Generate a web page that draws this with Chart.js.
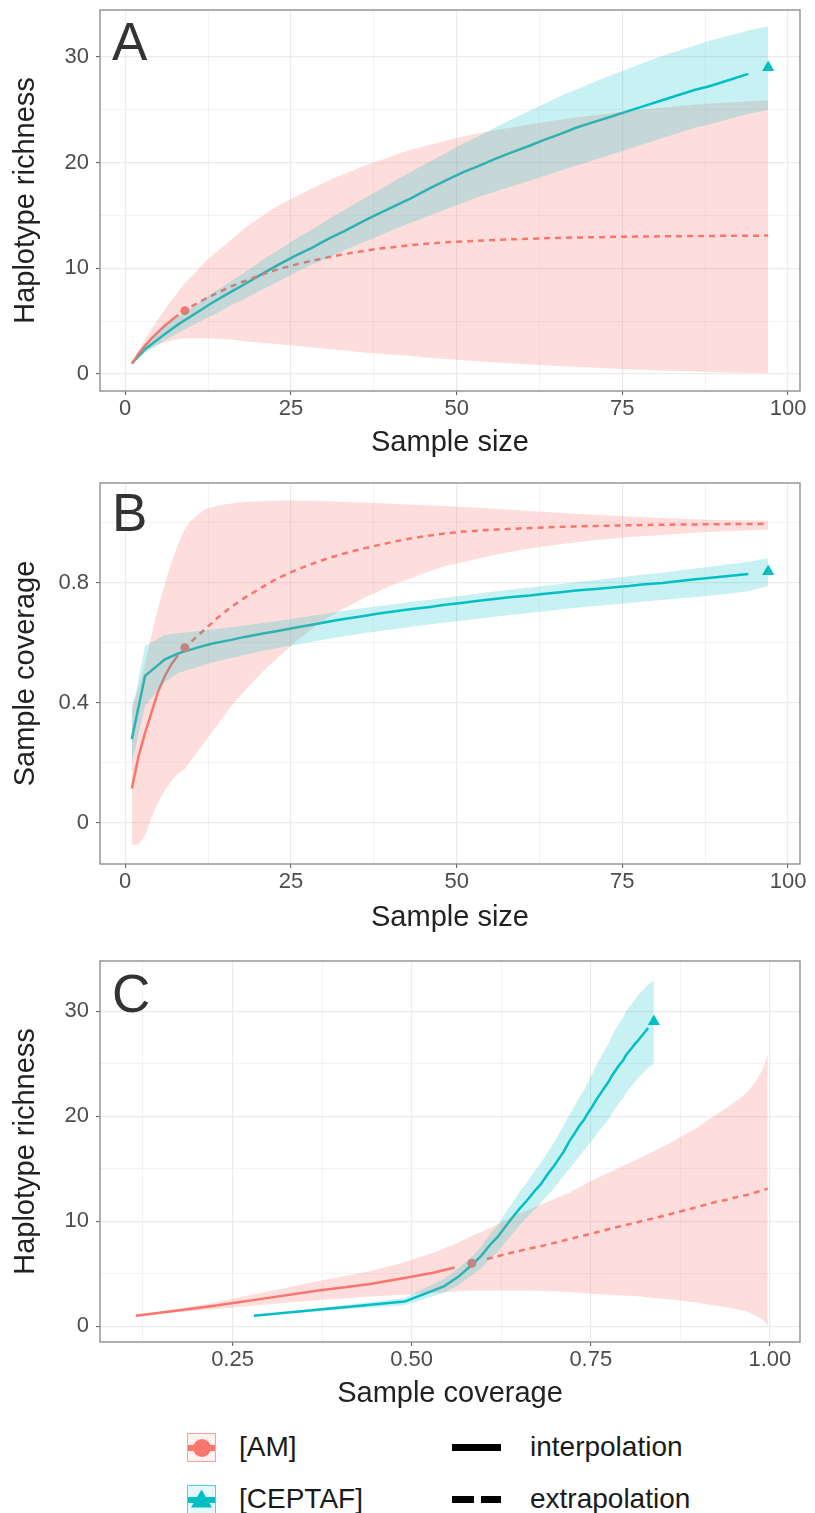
<!DOCTYPE html>
<html>
<head>
<meta charset="utf-8">
<title>Haplotype rarefaction / extrapolation</title>
<script src="https://cdn.jsdelivr.net/npm/chart.js@4.4.0/dist/chart.umd.min.js"></script>
<style>
  html, body { margin: 0; padding: 0; background: #fff; }
  body { width: 815px; height: 1513px; position: relative; overflow: hidden; font-family: 'Liberation Sans', Arial, sans-serif; }
  canvas { position: absolute; left: 0; }
  .tag { position: absolute; left: 112px; font-size: 53px; line-height: 1; color: #333; }
  .key { position: absolute; left: 187px; width: 27px; height: 27px; border: 1.5px solid; }
  .key .bar { position: absolute; left: 0; right: 0; top: 50%; height: 6px; margin-top: -3px; background: currentColor; }
  .key .dot { position: absolute; left: 50%; top: 50%; width: 18px; height: 18px; margin: -9px 0 0 -9px; border-radius: 50%; background: currentColor; }
  .key .tri { position: absolute; left: 50%; top: 50%; width: 21px; height: 18px; margin: -10px 0 0 -10.5px; background: currentColor; clip-path: polygon(50% 0, 100% 100%, 0 100%); }
  .am { color: #F8766D; border-color: rgba(248,118,109,0.65); background: rgba(248,118,109,0.10); }
  .ce { color: #00BFC4; border-color: rgba(0,191,196,0.65); background: rgba(0,191,196,0.10); }
  .lt { position: absolute; font-size: 28px; line-height: 1; color: #1a1a1a; white-space: nowrap; }
  .ln { position: absolute; height: 7px; background: #000; }
</style>
</head>
<body>
<canvas id="chartA" width="815" height="470" style="top:0px"></canvas>
<canvas id="chartB" width="815" height="480" style="top:470px"></canvas>
<canvas id="chartC" width="815" height="470" style="top:950px"></canvas>

<div class="tag" style="top:15px">A</div>
<div class="tag" style="top:486px">B</div>
<div class="tag" style="top:967px">C</div>

<!-- legend -->
<div class="key am" style="top:1433px"><div class="bar"></div><div class="dot"></div></div>
<div class="lt" style="left:239px;top:1433px">[AM]</div>
<div class="key ce" style="top:1485px"><div class="bar"></div><div class="tri"></div></div>
<div class="lt" style="left:239px;top:1485px">[CEPTAF]</div>
<div class="ln" style="left:452px;top:1444px;width:49px"></div>
<div class="lt" style="left:530px;top:1433px">interpolation</div>
<div class="ln" style="left:452px;top:1496px;width:22px"></div>
<div class="ln" style="left:481px;top:1496px;width:20px"></div>
<div class="lt" style="left:530px;top:1485px">extrapolation</div>

<script>
// ---- AM : sample sizes (observed n = 9 at index 8) ----
const amN = [1, 2, 3, 4, 5, 6, 7, 8, 9, 10, 12, 14, 16, 18, 21, 23, 26, 28, 31, 33, 36, 38, 41, 43, 46, 48, 51, 56, 61, 66, 71, 76, 81, 86, 91, 97];
const amObs = 8;
const amRich   = [1.0, 1.9, 2.7, 3.4, 4.0, 4.6, 5.1, 5.6, 6.0, 6.4, 7.1, 7.7, 8.3, 8.8, 9.5, 9.9, 10.4, 10.7, 11.1, 11.35, 11.65, 11.85, 12.05, 12.2, 12.35, 12.45, 12.55, 12.7, 12.8, 12.9, 12.95, 13.0, 13.03, 13.06, 13.08, 13.1];
const amRichLo = [1.0, 1.6, 2.1, 2.5, 2.8, 3.0, 3.2, 3.3, 3.4, 3.4, 3.4, 3.35, 3.25, 3.1, 2.95, 2.85, 2.65, 2.55, 2.35, 2.25, 2.05, 1.95, 1.8, 1.7, 1.55, 1.45, 1.3, 1.1, 0.9, 0.75, 0.6, 0.45, 0.35, 0.25, 0.15, 0.1];
const amRichHi = [1.0, 2.2, 3.3, 4.3, 5.2, 6.1, 7.0, 7.8, 8.6, 9.2, 10.6, 11.7, 12.7, 13.8, 15.1, 15.9, 16.9, 17.5, 18.4, 18.9, 19.7, 20.1, 20.8, 21.2, 21.7, 22.0, 22.5, 23.1, 23.6, 24.1, 24.5, 24.9, 25.2, 25.5, 25.7, 25.9];
const amCov    = [0.115, 0.22, 0.30, 0.37, 0.44, 0.49, 0.53, 0.56, 0.584, 0.605, 0.645, 0.685, 0.72, 0.75, 0.79, 0.815, 0.845, 0.862, 0.885, 0.898, 0.915, 0.925, 0.94, 0.948, 0.958, 0.964, 0.971, 0.978, 0.983, 0.987, 0.99, 0.992, 0.994, 0.995, 0.996, 0.997];
const amCovLo  = [-0.073, -0.073, -0.04, 0.02, 0.07, 0.11, 0.14, 0.165, 0.18, 0.21, 0.27, 0.33, 0.39, 0.44, 0.51, 0.55, 0.61, 0.645, 0.69, 0.715, 0.75, 0.77, 0.80, 0.815, 0.84, 0.855, 0.87, 0.895, 0.915, 0.93, 0.943, 0.953, 0.96, 0.967, 0.973, 0.978];
const amCovHi  = [0.39, 0.45, 0.53, 0.63, 0.72, 0.80, 0.87, 0.93, 0.98, 1.01, 1.045, 1.058, 1.065, 1.07, 1.073, 1.075, 1.075, 1.074, 1.072, 1.07, 1.068, 1.066, 1.063, 1.061, 1.058, 1.056, 1.053, 1.047, 1.04, 1.033, 1.027, 1.021, 1.016, 1.012, 1.009, 1.007];

// ---- CEPTAF : sample sizes (observed n = 97 at the last index) ----
const ceN = [1, 3, 6, 8, 11, 13, 16, 18, 21, 23, 26, 28, 31, 33, 36, 38, 41, 43, 46, 48, 51, 53, 56, 58, 61, 63, 66, 68, 71, 73, 76, 78, 81, 83, 86, 88, 91, 94, 97];
const ceObs = 38;
const ceRich   = [1.0, 2.35, 3.8, 4.7, 5.9, 6.7, 7.8, 8.5, 9.6, 10.3, 11.3, 11.9, 12.9, 13.5, 14.5, 15.1, 16.0, 16.6, 17.6, 18.2, 19.1, 19.6, 20.4, 20.9, 21.6, 22.1, 22.8, 23.3, 23.9, 24.3, 24.9, 25.3, 25.9, 26.3, 26.9, 27.2, 27.8, 28.4, 29.0];
const ceRichLo = [1.0, 2.0, 3.2, 3.9, 4.9, 5.5, 6.5, 7.1, 8.1, 8.7, 9.7, 10.3, 11.1, 11.7, 12.5, 13.0, 13.8, 14.3, 15.0, 15.5, 16.2, 16.7, 17.3, 17.7, 18.3, 18.7, 19.3, 19.7, 20.3, 20.7, 21.3, 21.7, 22.3, 22.7, 23.3, 23.6, 24.1, 24.6, 25.0];
const ceRichHi = [1.0, 2.7, 4.5, 5.5, 6.7, 7.6, 8.8, 9.6, 10.9, 11.7, 12.9, 13.6, 14.8, 15.5, 16.6, 17.3, 18.4, 19.1, 20.1, 20.8, 21.8, 22.4, 23.4, 24.0, 24.9, 25.5, 26.4, 26.9, 27.7, 28.2, 28.9, 29.4, 30.1, 30.5, 31.1, 31.5, 32.0, 32.5, 32.9];
const ceCov    = [0.28, 0.49, 0.545, 0.565, 0.585, 0.597, 0.61, 0.62, 0.632, 0.64, 0.652, 0.66, 0.672, 0.68, 0.69, 0.697, 0.706, 0.712, 0.72, 0.726, 0.734, 0.74, 0.747, 0.752, 0.758, 0.763, 0.77, 0.775, 0.78, 0.784, 0.79, 0.795, 0.80, 0.805, 0.812, 0.816, 0.823, 0.83, 0.838];
const ceCovLo  = [0.20, 0.39, 0.47, 0.50, 0.52, 0.535, 0.55, 0.56, 0.575, 0.583, 0.595, 0.603, 0.615, 0.622, 0.632, 0.638, 0.647, 0.653, 0.661, 0.667, 0.675, 0.68, 0.688, 0.693, 0.70, 0.705, 0.712, 0.717, 0.723, 0.727, 0.733, 0.737, 0.743, 0.747, 0.753, 0.757, 0.764, 0.772, 0.79];
const ceCovHi  = [0.37, 0.59, 0.627, 0.632, 0.64, 0.645, 0.652, 0.658, 0.667, 0.673, 0.683, 0.69, 0.70, 0.707, 0.716, 0.722, 0.73, 0.736, 0.744, 0.75, 0.758, 0.764, 0.772, 0.777, 0.785, 0.79, 0.797, 0.802, 0.81, 0.815, 0.822, 0.827, 0.834, 0.84, 0.848, 0.853, 0.862, 0.87, 0.882];

// ---- ticks ----
const sizeTicks = [0, 12.5, 25, 37.5, 50, 62.5, 75, 87.5, 100];
const sizeMajor = [0, 25, 50, 75, 100];
const sizeLabels = ['0', '25', '50', '75', '100'];
const richTicks = [0, 5, 10, 15, 20, 25, 30];
const richMajor = [0, 10, 20, 30];
const richLabels = ['0', '10', '20', '30'];
const covYTicks = [0, 0.2, 0.4, 0.6, 0.8, 1.0];
const covYMajor = [0, 0.4, 0.8];
const covYLabels = ['0', '0.4', '0.8'];
const covXTicks = [0.125, 0.25, 0.375, 0.5, 0.625, 0.75, 0.875, 1.0];
const covXMajor = [0.25, 0.5, 0.75, 1.0];
const covXLabels = ['0.25', '0.50', '0.75', '1.00'];

const RED = '#F8766D', TEAL = '#00BFC4';
const RED_FILL = 'rgba(248,118,109,0.24)', TEAL_FILL = 'rgba(0,191,196,0.22)';
const FONT = "'Liberation Sans', Arial, sans-serif";

function xy(xs, ys, a, b) {
  const out = [];
  for (let i = a; i < b; i++) out.push({x: xs[i], y: ys[i]});
  return out;
}

// ribbons sit above the lines; lower order is drawn later (on top)
function group(xs, ys, lo, hi, obs, col, fillCol, style, r, bandOrder) {
  const n = xs.length;
  return [
    {data: xy(xs, lo, 0, n), borderWidth: 0, pointRadius: 0, fill: false, order: bandOrder},
    {data: xy(xs, hi, 0, n), borderWidth: 0, pointRadius: 0, fill: '-1', backgroundColor: fillCol, order: bandOrder},
    {data: xy(xs, ys, 0, obs), borderColor: col, borderWidth: 2.5, pointRadius: 0, fill: false, order: 2},
    {data: xy(xs, ys, obs + 1, n), borderColor: col, borderWidth: 2.5, borderDash: [6, 5], pointRadius: 0, fill: false, order: 2},
    {data: xy(xs, ys, obs, obs + 1), showLine: false, pointStyle: style, pointRadius: r, backgroundColor: col, borderColor: col, borderWidth: 0, order: 2}
  ];
}

function findMajor(list, v) {
  return list.findIndex(m => Math.abs(m - v) < 1e-9);
}

function axis(ticks, major, labels, min, max, title, isX, size) {
  return {
    type: 'linear', min: min, max: max,
    afterBuildTicks: s => { s.ticks = ticks.map(v => ({value: v})); },
    afterFit: s => {
      if (isX) { s.height = size; s.paddingLeft = 0; s.paddingRight = 0; }
      else { s.width = size; s.paddingTop = 0; s.paddingBottom = 0; }
    },
    border: {display: false},
    grid: {
      color: '#ebebeb',
      lineWidth: c => findMajor(major, c.tick.value) >= 0 ? 1.2 : 0.6,
      tickLength: 4,
      tickWidth: 1,
      tickColor: c => findMajor(major, c.tick.value) >= 0 ? '#555' : 'rgba(0,0,0,0)'
    },
    ticks: {
      autoSkip: false, maxRotation: 0, padding: isX ? 3 : 7,
      color: '#4d4d4d', font: {family: FONT, size: 22, lineHeight: 1},
      callback: v => { const i = findMajor(major, v); return i >= 0 ? labels[i] : ''; }
    },
    title: {
      display: true, text: title, color: '#222',
      font: {family: FONT, size: 29, lineHeight: 1},
      padding: isX ? {top: 0, bottom: 0} : {top: 11.5, bottom: 0}
    }
  };
}

const frame = {
  id: 'frame',
  afterDraw(chart) {
    const {ctx, chartArea: a} = chart;
    ctx.save();
    ctx.strokeStyle = '#8f8f8f';
    ctx.lineWidth = 1.4;
    ctx.strokeRect(a.left, a.top, a.right - a.left, a.bottom - a.top);
    ctx.restore();
  }
};

function makeChart(id, datasets, xAx, yAx, padTop, padBottom) {
  return new Chart(document.getElementById(id), {
    type: 'line',
    data: {datasets: datasets},
    options: {
      responsive: false, animation: false, devicePixelRatio: 1,
      layout: {padding: {left: 0, right: 15, top: padTop, bottom: padBottom}},
      elements: {line: {tension: 0}},
      plugins: {legend: {display: false}, tooltip: {enabled: false}},
      scales: {x: xAx, y: yAx}
    },
    plugins: [frame]
  });
}

// A : richness vs sample size
makeChart('chartA',
  group(amN, amRich, amRichLo, amRichHi, amObs, RED, RED_FILL, 'circle', 4.5, 1)
    .concat(group(ceN, ceRich, ceRichLo, ceRichHi, ceObs, TEAL, TEAL_FILL, 'triangle', 7, 0)),
  axis(sizeTicks, sizeMajor, sizeLabels, -3.8, 101.8, 'Sample size', true, 66),
  axis(richTicks, richMajor, richLabels, -1.6, 34.44, 'Haplotype richness', false, 100),
  10, 13);

// B : coverage vs sample size
makeChart('chartB',
  group(amN, amCov, amCovLo, amCovHi, amObs, RED, RED_FILL, 'circle', 4.5, 1)
    .concat(group(ceN, ceCov, ceCovLo, ceCovHi, ceObs, TEAL, TEAL_FILL, 'triangle', 7, 0)),
  axis(sizeTicks, sizeMajor, sizeLabels, -3.8, 101.8, 'Sample size', true, 68),
  axis(covYTicks, covYMajor, covYLabels, -0.137, 1.133, 'Sample coverage', false, 100),
  13, 18);

// C : richness vs coverage
makeChart('chartC',
  group(amCov, amRich, amRichLo, amRichHi, amObs, RED, RED_FILL, 'circle', 4.5, 1)
    .concat(group(ceCov, ceRich, ceRichLo, ceRichHi, ceObs, TEAL, TEAL_FILL, 'triangle', 7, 0)),
  axis(covXTicks, covXMajor, covXLabels, 0.065, 1.042, 'Sample coverage', true, 66),
  axis(richTicks, richMajor, richLabels, -1.5, 34.77, 'Haplotype richness', false, 100),
  11, 12);
</script>
</body>
</html>
